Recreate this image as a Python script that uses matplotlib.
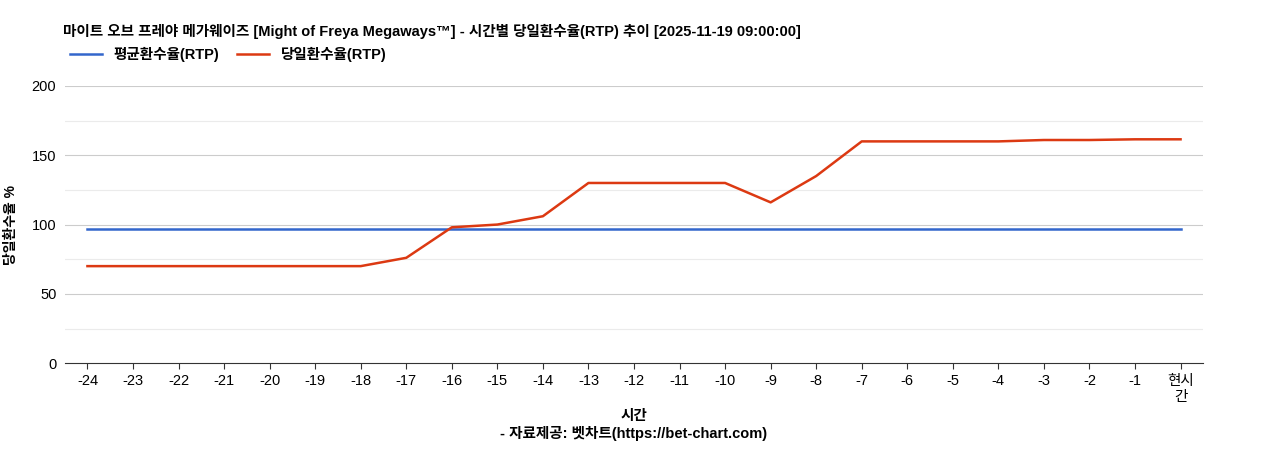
import matplotlib
matplotlib.use("Agg")
import matplotlib.pyplot as plt

plt.rcParams['font.family'] = ['Liberation Sans', 'Noto Sans CJK KR', 'DejaVu Sans']

labels = [str(i) for i in range(-24, 0)] + ['현시\n간']
avg_rtp = [96.5] * 25
day_rtp = [70, 70, 70, 70, 70, 70, 70, 76, 98, 100, 106, 130, 130, 130, 130, 116,
           135, 160, 160, 160, 160, 161, 161, 161.5, 161.5]

fig = plt.figure(figsize=(12.68, 4.5), dpi=100)
ax = fig.add_axes([0.051, 0.193, 0.898, 0.616])
x = list(range(len(labels)))
for y in range(25, 201, 25):
    ax.axhline(y, color='#cccccc' if y % 50 == 0 else '#ebebeb', lw=0.8, zorder=0)
ax.plot(x, avg_rtp, color='#3366cc', lw=1.8, label='평균환수율(RTP)')
ax.plot(x, day_rtp, color='#dc3912', lw=1.8, label='당일환수율(RTP)')
ax.set_xlim(-0.5, len(labels) - 0.5)
ax.set_ylim(0, 200)
ax.set_yticks([0, 50, 100, 150, 200])
ax.set_xticks(x)
ax.set_xticklabels(labels, fontsize=10.5)
ax.tick_params(axis='y', length=0, labelsize=10.5, pad=6)
ax.tick_params(axis='x', length=4, color='#333333')
for s in ['top', 'right', 'left']:
    ax.spines[s].set_visible(False)
ax.spines['bottom'].set_color('#333333')
ax.set_ylabel('당일환수율 %', fontsize=10, fontweight='bold', labelpad=10)
ax.set_xlabel('시간', fontsize=10.5, fontweight='bold', labelpad=4)
fig.text(0.05, 0.93, '마이트 오브 프레야 메가웨이즈 [Might of Freya Megaways™] - 시간별 당일환수율(RTP) 추이 [2025-11-19 09:00:00]',
         fontsize=10.5, fontweight='bold', va='center')
fig.legend(loc='center left', bbox_to_anchor=(0.045, 0.878), ncol=2, frameon=False,
           handlelength=2.2, columnspacing=1.2, prop={'weight': 'bold', 'size': 10.5})
fig.text(0.5, 0.027, '- 자료제공: 벳차트(https://bet-chart.com)', ha='center', fontsize=10.5, fontweight='bold')
fig.savefig('out.png', dpi=100)
